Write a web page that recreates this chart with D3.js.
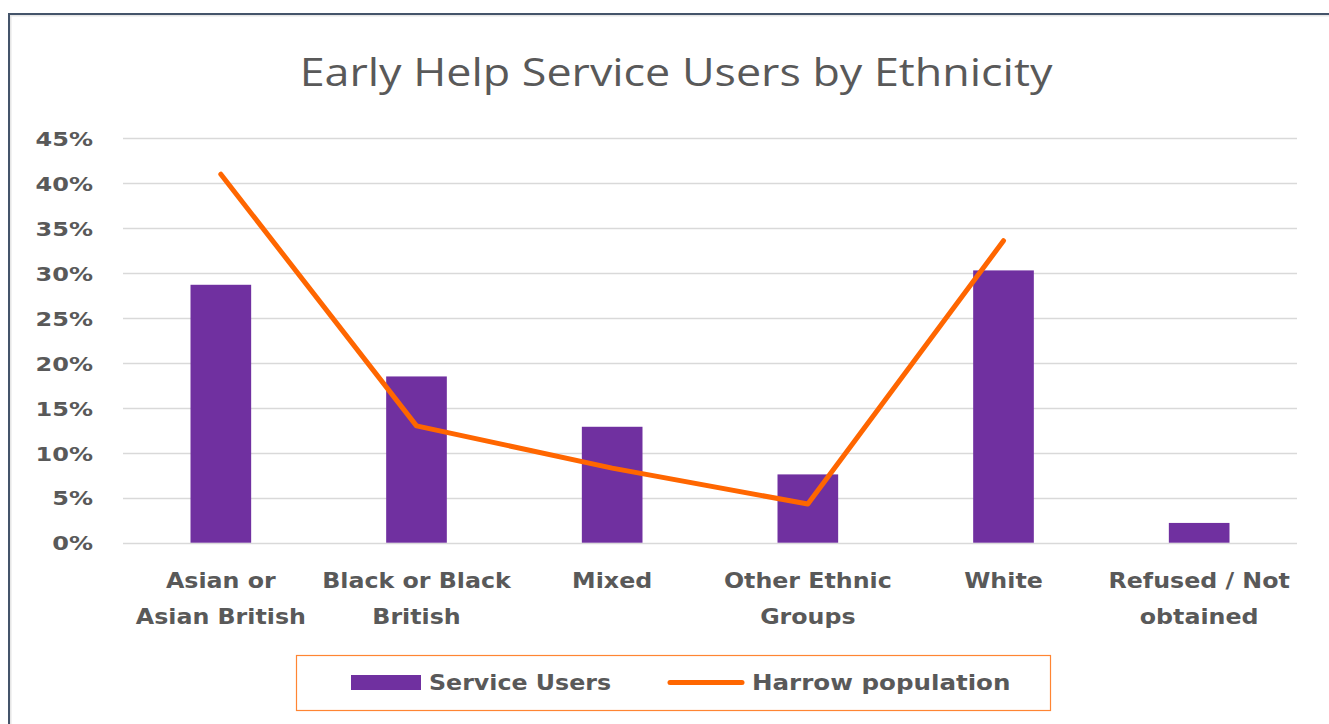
<!DOCTYPE html>
<html><head><meta charset="utf-8">
<script src="https://cdn.jsdelivr.net/npm/d3@7"></script>
<style>
html,body{margin:0;padding:0;background:#fff;}
svg{display:block;}
</style></head>
<body>
<svg id="chart" width="1329" height="724"></svg>
<script>
const categories = [["Asian or","Asian British"],["Black or Black","British"],["Mixed"],["Other Ethnic","Groups"],["White"],["Refused / Not","obtained"]];
const serviceUsers = [28.7, 18.5, 12.9, 7.6, 30.3, 2.2];
const harrowPopulation = [41.0, 13.0, 8.3, 4.3, 33.6, null];
const yTicks = [0,5,10,15,20,25,30,35,40,45];
const titleText = "Early Help Service Users by Ethnicity";
const seriesNames = ["Service Users","Harrow population"];

const svg = d3.select("#chart");
const W = 1329, H = 724;
const purple = "#7030A0", orange = "#FF6600", grey = "#595959";

// frame
svg.append("rect").attr("x",0).attr("y",0).attr("width",W).attr("height",H).attr("fill","#fff");
svg.append("path").attr("d",`M10,${H+5} V15 H${W+5}`).attr("fill","none").attr("stroke","#e6e6e6").attr("stroke-width",3);
svg.append("path").attr("d",`M9,${H+5} V14 H${W+5}`).attr("fill","none").attr("stroke","#44546A").attr("stroke-width",2);

const x = d3.scaleBand().domain(d3.range(categories.length)).range([123,1297]).paddingInner(0.69).paddingOuter(0.345);
const xc = d3.scaleBand().domain(d3.range(categories.length)).range([123,1297]);
const y = d3.scaleLinear().domain([0,45]).range([542.7,138.3]);

// gridlines
svg.append("g").selectAll("line").data(yTicks).join("line")
  .attr("x1",123).attr("x2",1297)
  .attr("y1",d=>Math.round(y(d))+0.5).attr("y2",d=>Math.round(y(d))+0.5)
  .attr("stroke","#d9d9d9").attr("stroke-width",1.5);

// y axis
const yAxis = d3.axisLeft(y).tickValues(yTicks).tickFormat(d=>d+"%").tickSize(0).tickPadding(0);
const ya = svg.append("g").attr("transform","translate(93,0)").call(yAxis);
ya.select(".domain").remove();
ya.selectAll("text").attr("fill",grey).attr("font-family","DejaVu Sans").attr("font-weight","bold")
  .attr("font-size",20).attr("dy","0.36em").attr("x",0).attr("text-anchor","end")
  .attr("transform","scale(1.2,1)");

// bars
svg.append("g").selectAll("rect").data(serviceUsers).join("rect")
  .attr("x",(d,i)=>x(i)).attr("width",x.bandwidth())
  .attr("y",d=>y(d)).attr("height",d=>y(0)-y(d))
  .attr("fill",purple);

// line
const line = d3.line().defined(d=>d!=null).x((d,i)=>xc(i)+xc.bandwidth()/2).y(d=>y(d));
svg.append("path").datum(harrowPopulation).attr("d",line)
  .attr("fill","none").attr("stroke",orange).attr("stroke-width",5)
  .attr("stroke-linecap","round").attr("stroke-linejoin","round");

// category labels
const cg = svg.append("g");
categories.forEach((lines,i)=>{
  const cx = xc(i)+xc.bandwidth()/2;
  const t = cg.append("text").attr("transform",`translate(${cx},588) scale(1.13,1)`)
    .attr("text-anchor","middle").attr("fill",grey)
    .attr("font-family","DejaVu Sans").attr("font-weight","bold").attr("font-size",21);
  lines.forEach((l,j)=>t.append("tspan").attr("x",0).attr("dy",j?36:0).text(l));
});

// title
svg.append("text").attr("transform","translate(676,86) scale(1.18,1)").attr("text-anchor","middle")
  .attr("fill",grey).attr("font-family","Open Sans").attr("font-size",38).text(titleText);

// legend
const lg = svg.append("g");
lg.append("rect").attr("x",296.5).attr("y",655.5).attr("width",754).attr("height",55)
  .attr("fill","#fff").attr("stroke","#FF8533").attr("stroke-width",1.2);
lg.append("rect").attr("x",351).attr("y",675).attr("width",70).attr("height",15).attr("fill",purple);
lg.append("text").attr("transform","translate(429,690) scale(1.13,1)").attr("fill",grey).attr("font-family","DejaVu Sans")
  .attr("font-weight","bold").attr("font-size",21).text(seriesNames[0]);
lg.append("line").attr("x1",670).attr("x2",742).attr("y1",682.5).attr("y2",682.5)
  .attr("stroke",orange).attr("stroke-width",5).attr("stroke-linecap","round");
lg.append("text").attr("transform","translate(752,690) scale(1.17,1)").attr("fill",grey).attr("font-family","DejaVu Sans")
  .attr("font-weight","bold").attr("font-size",21).text(seriesNames[1]);
</script>
</body></html>
